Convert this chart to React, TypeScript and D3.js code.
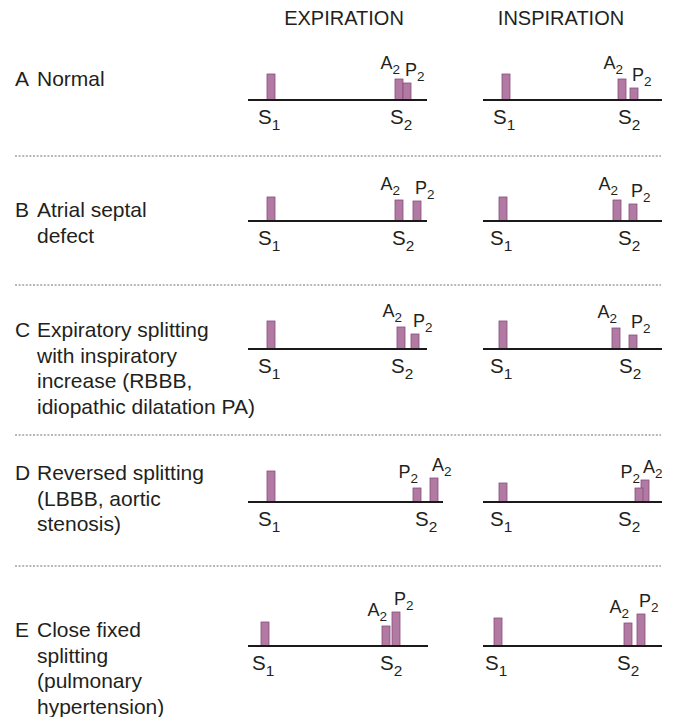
import React, { useRef, useEffect } from 'react'
import * as d3 from 'd3'

// layout of rows / phases
const phases = ['EXPIRATION', 'INSPIRATION']
const rowLetters = ['A', 'B', 'C', 'D', 'E']
const rowLabels = [
  ['Normal'],
  ['Atrial septal', 'defect'],
  ['Expiratory splitting', 'with inspiratory', 'increase (RBBB,', 'idiopathic dilatation PA)'],
  ['Reversed splitting', '(LBBB, aortic', 'stenosis)'],
  ['Close fixed', 'splitting', '(pulmonary', 'hypertension)']
]

// timing along the trace (arbitrary time units) and amplitude of each sound
const expS1 = [19, 19, 19, 19, 13]
const expA2 = [147, 147, 149, 182, 134]
const expP2 = [155, 165, 163, 165, 144]
const expS1Amp = [26, 24, 28, 31, 24]
const expA2Amp = [21, 21, 22, 24, 20]
const expP2Amp = [17, 20, 15, 14, 34]
const expEnd = [179, 179, 179, 195, 180]
const expS2Label = [142, 144, 143, 167, 132]

const inspS1 = [19, 16, 16, 16, 11]
const inspA2 = [135, 130, 129, 158, 141]
const inspP2 = [147, 146, 146, 152, 154]
const inspS1Amp = [26, 24, 28, 19, 28]
const inspA2Amp = [21, 21, 21, 22, 23]
const inspP2Amp = [12, 17, 14, 14, 32]
const inspEnd = [179, 179, 179, 179, 179]
const inspS2Label = [135, 135, 136, 135, 134]

const W = 673
const H = 717
const panelX = [248, 483]
const rowBase = [100, 221, 349, 502, 646]
const rowTextY = [86, 217, 337, 480, 637]
const separators = [156, 285, 435, 566]
const FONT = 'Liberation Sans, Arial, Helvetica, sans-serif'
const INK = '#231f20'
const BAR_FILL = '#b07aa2'
const BAR_STROKE = '#8a4c7c'
const BAR_W = 8

export default function App() {
  const ref = useRef<SVGSVGElement>(null)

  useEffect(() => {
    if (!ref.current) return
    const svg = d3.select(ref.current)
    svg.selectAll('*').remove()

    const x = d3.scaleLinear().domain([0, 200]).range([0, 200])
    const y = d3.scaleLinear().domain([0, 40]).range([0, 40])

    // headers
    svg.selectAll('text.header')
      .data(phases)
      .enter()
      .append('text')
      .attr('class', 'header')
      .attr('x', (_d, i) => [344, 561][i])
      .attr('y', 25)
      .attr('text-anchor', 'middle')
      .attr('font-size', 20)
      .attr('font-family', FONT)
      .attr('fill', INK)
      .text(d => d)

    // dotted separators
    svg.selectAll('line.sep')
      .data(separators)
      .enter()
      .append('line')
      .attr('class', 'sep')
      .attr('x1', 15)
      .attr('x2', 661)
      .attr('y1', d => d)
      .attr('y2', d => d)
      .attr('stroke', '#a0a0a0')
      .attr('stroke-width', 1.3)
      .attr('stroke-dasharray', '2,1.6')

    // row labels
    rowLetters.forEach((letter, r) => {
      const g = svg.append('g')
        .attr('font-family', FONT)
        .attr('font-size', 21)
        .attr('fill', INK)
      g.append('text').attr('x', 15).attr('y', rowTextY[r]).text(letter)
      rowLabels[r].forEach((line, k) => {
        g.append('text')
          .attr('x', 37)
          .attr('y', rowTextY[r] + k * 25.5)
          .text(line)
      })
    })

    const subText = (g: any, xPos: number, yPos: number, main: string, sub: string, size: number, anchor: string) => {
      const t = g.append('text')
        .attr('x', xPos)
        .attr('y', yPos)
        .attr('text-anchor', anchor)
        .attr('font-family', FONT)
        .attr('font-size', size)
        .attr('fill', INK)
      t.append('tspan').text(main)
      t.append('tspan')
        .attr('font-size', size * 0.75)
        .attr('dy', size * 0.3)
        .text(sub)
    }

    const phaseData = [
      { s1: expS1, a2: expA2, p2: expP2, s1a: expS1Amp, a2a: expA2Amp, p2a: expP2Amp, end: expEnd, s2l: expS2Label },
      { s1: inspS1, a2: inspA2, p2: inspP2, s1a: inspS1Amp, a2a: inspA2Amp, p2a: inspP2Amp, end: inspEnd, s2l: inspS2Label }
    ]

    phaseData.forEach((p, ph) => {
      rowLetters.forEach((_l, r) => {
        const base = rowBase[r]
        const g = svg.append('g').attr('transform', `translate(${panelX[ph]},${base})`)

        const sounds = [
          { name: 'S1', t: p.s1[r], amp: p.s1a[r] },
          { name: 'A2', t: p.a2[r], amp: p.a2a[r] },
          { name: 'P2', t: p.p2[r], amp: p.p2a[r] }
        ]

        g.selectAll('rect')
          .data(sounds)
          .enter()
          .append('rect')
          .attr('x', d => x(d.t))
          .attr('y', d => -y(d.amp))
          .attr('width', BAR_W)
          .attr('height', d => y(d.amp))
          .attr('fill', BAR_FILL)
          .attr('stroke', BAR_STROKE)
          .attr('stroke-width', 0.8)

        g.append('line')
          .attr('x1', x(0))
          .attr('x2', x(p.end[r]))
          .attr('y1', 0)
          .attr('y2', 0)
          .attr('stroke', '#1a1a1a')
          .attr('stroke-width', 2)

        // S1 / S2 labels
        subText(g, x(p.s1[r]) - 9, 24, 'S', '1', 20.5, 'start')
        subText(g, x(p.s2l[r]), 24, 'S', '2', 20.5, 'start')

        // A2 / P2 labels: left component labelled to its left, right one to its right
        const pair = sounds.slice(1).sort((a, b) => a.t - b.t)
        const left = pair[0]
        const right = pair[1]
        subText(g, x(left.t) + BAR_W - 3, -y(left.amp) - 10, left.name[0], '2', 18, 'end')
        subText(g, x(right.t) + 2, -y(right.amp) - 7, right.name[0], '2', 18, 'start')
      })
    })
  }, [])

  return (
    <svg ref={ref} width={W} height={H} style={{ position: 'absolute', left: 0, top: 0, background: '#fff' }} />
  )
}
